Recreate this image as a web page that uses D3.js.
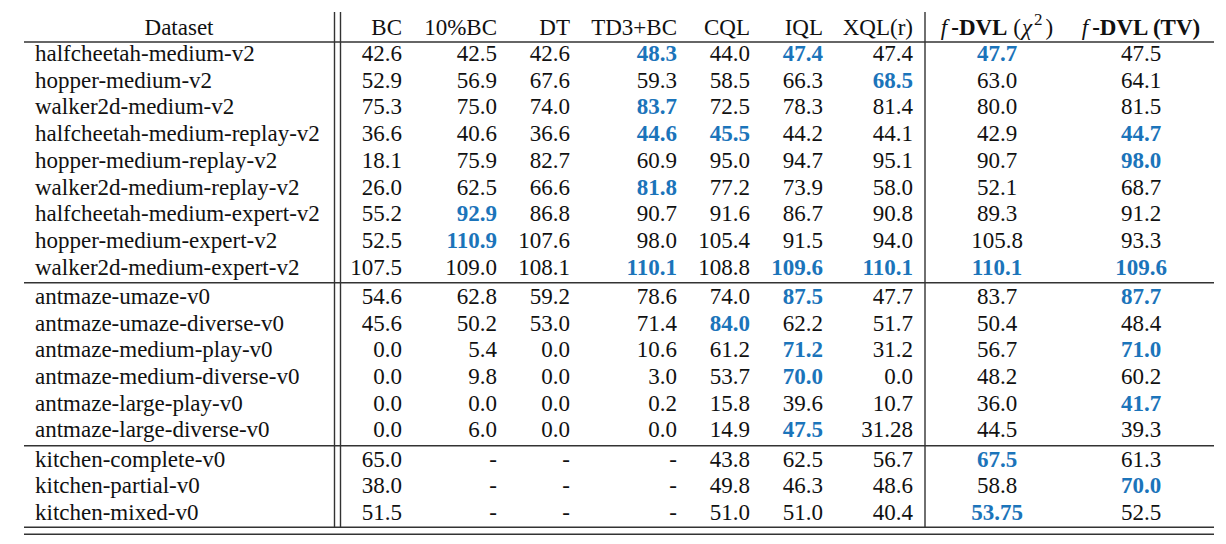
<!DOCTYPE html>
<html>
<head>
<meta charset="utf-8">
<script src="https://cdn.jsdelivr.net/npm/d3@7"></script>
<style>
  body { margin: 0; background: #fff; }
  svg text { font-family: "Liberation Serif", "Times New Roman", serif; font-size: 23px; fill: #111; }
</style>
</head>
<body>
<div id="container"></div>
<script>
const datasets = [
  "halfcheetah-medium-v2", "hopper-medium-v2", "walker2d-medium-v2",
  "halfcheetah-medium-replay-v2", "hopper-medium-replay-v2", "walker2d-medium-replay-v2",
  "halfcheetah-medium-expert-v2", "hopper-medium-expert-v2", "walker2d-medium-expert-v2",
  "antmaze-umaze-v0", "antmaze-umaze-diverse-v0", "antmaze-medium-play-v0",
  "antmaze-medium-diverse-v0", "antmaze-large-play-v0", "antmaze-large-diverse-v0",
  "kitchen-complete-v0", "kitchen-partial-v0", "kitchen-mixed-v0"
];
// group of each row (mujoco / antmaze / kitchen)
const groups = [0,0,0,0,0,0,0,0,0,1,1,1,1,1,1,2,2,2];

const methods = ["BC", "10%BC", "DT", "TD3+BC", "CQL", "IQL", "XQL(r)", "chi", "tv"];

const bc     = ["42.6","52.9","75.3","36.6","18.1","26.0","55.2","52.5","107.5","54.6","45.6","0.0","0.0","0.0","0.0","65.0","38.0","51.5"];
const bc10   = ["42.5","56.9","75.0","40.6","75.9","62.5","92.9","110.9","109.0","62.8","50.2","5.4","9.8","0.0","6.0","-","-","-"];
const dt     = ["42.6","67.6","74.0","36.6","82.7","66.6","86.8","107.6","108.1","59.2","53.0","0.0","0.0","0.0","0.0","-","-","-"];
const td3bc  = ["48.3","59.3","83.7","44.6","60.9","81.8","90.7","98.0","110.1","78.6","71.4","10.6","3.0","0.2","0.0","-","-","-"];
const cql    = ["44.0","58.5","72.5","45.5","95.0","77.2","91.6","105.4","108.8","74.0","84.0","61.2","53.7","15.8","14.9","43.8","49.8","51.0"];
const iql    = ["47.4","66.3","78.3","44.2","94.7","73.9","86.7","91.5","109.6","87.5","62.2","71.2","70.0","39.6","47.5","62.5","46.3","51.0"];
const xql    = ["47.4","68.5","81.4","44.1","95.1","58.0","90.8","94.0","110.1","47.7","51.7","31.2","0.0","10.7","31.28","56.7","48.6","40.4"];
const dvlChi = ["47.7","63.0","80.0","42.9","90.7","52.1","89.3","105.8","110.1","83.7","50.4","56.7","48.2","36.0","44.5","67.5","58.8","53.75"];
const dvlTv  = ["47.5","64.1","81.5","44.7","98.0","68.7","91.2","93.3","109.6","87.7","48.4","71.0","60.2","41.7","39.3","61.3","70.0","52.5"];

// highlighted (best) cells: [row, method]
const best = [
  [0,"TD3+BC"],[0,"IQL"],[0,"chi"],
  [1,"XQL(r)"],
  [2,"TD3+BC"],
  [3,"TD3+BC"],[3,"CQL"],[3,"tv"],
  [4,"tv"],
  [5,"TD3+BC"],
  [6,"10%BC"],
  [7,"10%BC"],
  [8,"TD3+BC"],[8,"IQL"],[8,"XQL(r)"],[8,"chi"],[8,"tv"],
  [9,"IQL"],[9,"tv"],
  [10,"CQL"],
  [11,"IQL"],[11,"tv"],
  [12,"IQL"],
  [13,"tv"],
  [14,"IQL"],
  [15,"chi"],
  [16,"tv"],
  [17,"chi"]
];

const columns = [bc, bc10, dt, td3bc, cql, iql, xql, dvlChi, dvlTv];

const W = 1226, H = 544;
const blue = "#1b74ba";
const rule = "#333";

const svg = d3.select("#container").append("svg")
  .attr("width", W).attr("height", H);

// layout scales
const colX = d3.scaleOrdinal()
  .domain(methods)
  .range([402, 497, 570, 677, 750, 823, 913, 997, 1141]);
const colAnchor = d3.scaleOrdinal()
  .domain(methods)
  .range(["end","end","end","end","end","end","end","middle","middle"]);

const rowH = 26.7, sepGap = 2.6;
const yRow = d3.scaleLinear().domain([0, datasets.length - 1])
  .range([53, 53 + (datasets.length - 1) * rowH]);
const y = i => yRow(i) + groups[i] * sepGap;

const left = 24, right = 1214;
const topY = 12, headerLine = 42;
const sepLines = [282.7, 445.7];
const bottomLines = [527.3, 534.3];

// horizontal rules
svg.selectAll("line.h")
  .data([headerLine, ...sepLines, ...bottomLines])
  .join("line")
  .attr("class", "h")
  .attr("x1", left).attr("x2", right)
  .attr("y1", d => d).attr("y2", d => d)
  .attr("stroke", rule).attr("stroke-width", 1.4);

// vertical rules
svg.selectAll("line.v")
  .data([334.5, 340.5, 925])
  .join("line")
  .attr("class", "v")
  .attr("x1", d => d).attr("x2", d => d)
  .attr("y1", topY).attr("y2", bottomLines[0])
  .attr("stroke", rule).attr("stroke-width", 1.4);

// header
const headY = 35;
svg.append("text").attr("x", 179).attr("y", headY)
  .attr("text-anchor", "middle").text("Dataset");

methods.slice(0, 7).forEach(m => {
  svg.append("text")
    .attr("x", colX(m)).attr("y", headY)
    .attr("text-anchor", colAnchor(m))
    .text(m);
});

const hChi = svg.append("text").attr("x", colX("chi")).attr("y", headY).attr("text-anchor", "middle");
hChi.append("tspan").attr("font-style", "italic").text("f");
hChi.append("tspan").attr("dx", 4).attr("font-weight", "bold").text("-DVL");
hChi.append("tspan").text(" (");
hChi.append("tspan").attr("dx", 1).attr("font-style", "italic").text("χ");
hChi.append("tspan").attr("dx", 2).attr("dy", -10).style("font-size", "17px").text("2");
hChi.append("tspan").attr("dx", 3).attr("dy", 10).text(")");

const hTv = svg.append("text").attr("x", colX("tv")).attr("y", headY).attr("text-anchor", "middle");
hTv.append("tspan").attr("font-style", "italic").text("f");
hTv.append("tspan").attr("dx", 4).attr("font-weight", "bold").text("-DVL (TV)");

// dataset names
svg.selectAll("text.name")
  .data(datasets)
  .join("text")
  .attr("class", "name")
  .attr("x", 35)
  .attr("y", (d, i) => y(i))
  .attr("dy", "0.35em")
  .text(d => d);

// cells
const bestSet = new Set(best.map(b => b[0] + "|" + b[1]));
const cells = [];
methods.forEach((m, j) => {
  columns[j].forEach((v, i) => cells.push({ row: i, method: m, value: v, best: bestSet.has(i + "|" + m) }));
});

svg.selectAll("text.cell")
  .data(cells)
  .join("text")
  .attr("class", "cell")
  .attr("x", d => colX(d.method))
  .attr("y", d => y(d.row))
  .attr("dy", "0.35em")
  .attr("text-anchor", d => colAnchor(d.method))
  .attr("font-weight", d => d.best ? "bold" : null)
  .style("fill", d => d.best ? blue : null)
  .text(d => d.value);
</script>
</body>
</html>
